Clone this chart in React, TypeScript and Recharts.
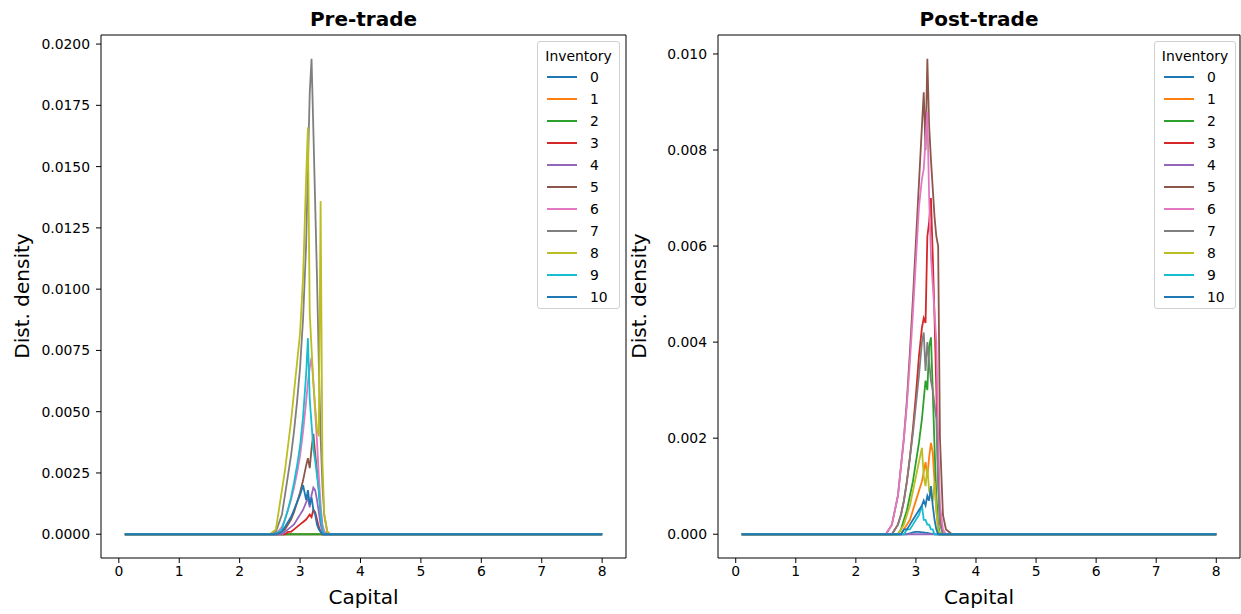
import React from "react";
import { LineChart, Line, XAxis, YAxis, ReferenceLine } from "recharts";

// shared capital grid (fine only where the densities live)
const capital = [
  0.1, 1, 2, 2.5, 2.6, 2.7, 2.75, 2.8, 2.85, 2.9, 2.95, 3.0, 3.05, 3.1, 3.13, 3.16,
  3.19, 3.22, 3.25, 3.28, 3.31, 3.34, 3.37, 3.4, 3.45, 3.5, 3.6, 4, 5, 6, 7, 8,
];

const inventory = ["0", "1", "2", "3", "4", "5", "6", "7", "8", "9", "10"];
const colors = [
  "#1f77b4", "#ff7f0e", "#2ca02c", "#d62728", "#9467bd", "#8c564b",
  "#e377c2", "#7f7f7f", "#bcbd22", "#17becf", "#1f77b4",
];

const xTicks = [0, 1, 2, 3, 4, 5, 6, 7, 8];
const preTicks = [0, 0.0025, 0.005, 0.0075, 0.01, 0.0125, 0.015, 0.0175, 0.02];
const postTicks = [0, 0.002, 0.004, 0.006, 0.008, 0.01];

// pre-trade densities
const pre0 = [0,0,0,0, 0,0,0,0,0,0,0,0,0,0,0,0,0,0,0,0,0,0,0,0,0, 0,0,0,0,0,0,0];
const pre1 = [0,0,0,0, 0,0,0,0,0,0,0,0,0,0,0,0,0,0,0,0,0,0,0,0,0, 0,0,0,0,0,0,0];
const pre2 = [0,0,0,0, 0,0,0,0,0,0,0,0,0,0,0,0,0,0,0,0,0,0,0,0,0, 0,0,0,0,0,0,0];
const pre3 = [0,0,0,0, 0,0,0,0.0001,0.0001,0.0002,0.0003,0.0004,0.0005,0.0006,0.0007,0.0008,0.0007,0.001,0.0009,0.0006,0.0003,0.0001,0,0,0, 0,0,0,0,0,0,0];
const pre4 = [0,0,0,0, 0,0,0.0001,0.0002,0.0003,0.0004,0.0006,0.0008,0.001,0.0013,0.0015,0.0011,0.0016,0.0019,0.0018,0.0014,0.0009,0.0004,0.0001,0,0, 0,0,0,0,0,0,0];
const pre5 = [0,0,0,0, 0,0.0001,0.0002,0.0004,0.0006,0.0009,0.0013,0.0017,0.0022,0.0028,0.0031,0.0027,0.0035,0.0041,0.0033,0.0026,0.0018,0.0009,0.0003,0.0001,0, 0,0,0,0,0,0,0];
const pre6 = [0,0,0,0, 0,0.0003,0.0006,0.001,0.0014,0.0019,0.0025,0.0032,0.0042,0.0054,0.0062,0.0068,0.0072,0.0062,0.005,0.0038,0.0024,0.0012,0.0004,0.0001,0, 0,0,0,0,0,0,0];
const pre7 = [0,0,0,0, 0.0001,0.0008,0.0016,0.0024,0.0032,0.0042,0.0054,0.0068,0.0088,0.0118,0.015,0.018,0.0194,0.0165,0.0135,0.0105,0.007,0.004,0.002,0.0008,0.0001, 0,0,0,0,0,0,0];
const pre8 = [0,0,0,0, 0.0002,0.0018,0.0026,0.0036,0.0046,0.0058,0.007,0.0082,0.0105,0.0145,0.0166,0.009,0.0076,0.0062,0.0052,0.0043,0.004,0.0136,0.003,0.0008,0.0001, 0,0,0,0,0,0,0];
const pre9 = [0,0,0,0, 0,0.0002,0.0006,0.001,0.0015,0.0021,0.0028,0.0036,0.0048,0.0065,0.008,0.0055,0.0045,0.0035,0.003,0.0024,0.0018,0.0008,0.0002,0,0, 0,0,0,0,0,0,0];
const pre10 = [0,0,0,0, 0,0.0001,0.0003,0.0005,0.0007,0.001,0.0013,0.0016,0.002,0.0014,0.0018,0.0012,0.0015,0.001,0.0008,0.0004,0.0002,0.0001,0,0,0, 0,0,0,0,0,0,0];

// post-trade densities
const post0 = [0,0,0,0, 0,0,0,0,0,0.00002,0.00004,0.00005,0.00005,0.00004,0.00004,0.00003,0.00003,0.00002,0.00001,0.00001,0,0,0,0,0, 0,0,0,0,0,0,0];
const post1 = [0,0,0,0, 0,0,0,0.0001,0.0002,0.0003,0.0005,0.0007,0.0009,0.0011,0.0013,0.0015,0.0012,0.0016,0.0019,0.0017,0.0011,0.0005,0.0001,0,0, 0,0,0,0,0,0,0];
const post2 = [0,0,0,0, 0,0,0.0001,0.0003,0.0005,0.0008,0.0011,0.0015,0.0019,0.0024,0.0028,0.0032,0.003,0.0039,0.0041,0.003,0.0018,0.0008,0.0002,0,0, 0,0,0,0,0,0,0];
const post3 = [0,0,0,0, 0,0.0002,0.0004,0.0007,0.0011,0.0016,0.0022,0.0029,0.0037,0.0043,0.0045,0.0044,0.0062,0.0065,0.007,0.0058,0.0045,0.003,0.0012,0.0003,0, 0,0,0,0,0,0,0];
const post4 = [0,0,0,0, 0,0,0,0,0,0,0,0,0,0,0,0,0,0,0,0,0,0,0,0,0, 0,0,0,0,0,0,0];
const post5 = [0,0,0,0, 0.0002,0.0008,0.0014,0.002,0.0028,0.0038,0.0049,0.0061,0.0073,0.0085,0.0092,0.008,0.0099,0.0085,0.0078,0.0072,0.0066,0.0062,0.006,0.002,0.0004, 0.0001,0,0,0,0,0,0];
const post6 = [0,0,0,0, 0.0002,0.0008,0.0014,0.002,0.0027,0.0036,0.0046,0.0057,0.0068,0.0074,0.0076,0.0082,0.0088,0.007,0.0058,0.0052,0.0046,0.004,0.002,0.0006,0.0001, 0,0,0,0,0,0,0];
const post7 = [0,0,0,0, 0,0.0002,0.0004,0.0007,0.0011,0.0016,0.0021,0.0027,0.0033,0.004,0.0042,0.0034,0.004,0.0036,0.0032,0.003,0.0027,0.0024,0.001,0.0002,0, 0,0,0,0,0,0,0];
const post8 = [0,0,0,0, 0,0,0.0001,0.0002,0.0004,0.0006,0.0009,0.0012,0.0015,0.0018,0.0012,0.001,0.0014,0.0009,0.0008,0.0007,0.0011,0.0005,0.0001,0,0, 0,0,0,0,0,0,0];
const post9 = [0,0,0,0, 0,0,0,0,0.0001,0.0001,0.0002,0.0003,0.0004,0.0006,0.0003,0.0003,0.0002,0.0002,0.0001,0.0001,0,0,0,0,0, 0,0,0,0,0,0,0];
const post10 = [0,0,0,0, 0,0,0,0.0001,0.0001,0.0002,0.0003,0.0004,0.0005,0.0006,0.0007,0.0006,0.0008,0.0007,0.001,0.0006,0.0003,0.0001,0,0,0, 0,0,0,0,0,0,0];

const preSeries = [pre0, pre1, pre2, pre3, pre4, pre5, pre6, pre7, pre8, pre9, pre10];
const postSeries = [post0, post1, post2, post3, post4, post5, post6, post7, post8, post9, post10];

function toRows(series: number[][]) {
  return capital.map((c, i) => {
    const row: Record<string, number> = { capital: c };
    series.forEach((s, k) => {
      row["s" + k] = s[i];
    });
    return row;
  });
}

const FONT = "'DejaVu Sans', sans-serif";
const tickStyle = { fontSize: 13.9, fill: "#000", fontFamily: FONT };
const X_DOMAIN: [number, number] = [-0.295, 8.395];

function InventoryLegend({ left, width }: { left: number; width: number }) {
  return (
    <div
      style={{
        position: "absolute",
        left,
        top: 41,
        width,
        height: 268,
        border: "1px solid #d0d0d0",
        borderRadius: 3,
        background: "rgba(255,255,255,0.8)",
        fontFamily: FONT,
        fontSize: 13.9,
        color: "#000",
        boxSizing: "border-box",
      }}
    >
      <div style={{ textAlign: "center", marginTop: 4, height: 20, lineHeight: "20px" }}>Inventory</div>
      {inventory.map((name, i) => (
        <div key={name} style={{ display: "flex", alignItems: "center", height: 22 }}>
          <div style={{ marginLeft: 9, width: 30, height: 2, background: colors[i] }} />
          <span style={{ marginLeft: 13 }}>{name}</span>
        </div>
      ))}
    </div>
  );
}

interface PanelProps {
  left: number;
  width: number;
  marginLeft: number;
  marginRight: number;
  title: string;
  series: number[][];
  yDomain: [number, number];
  yTicks: number[];
  digits: number;
  legendLeft: number;
  legendWidth: number;
}

function Panel(p: PanelProps) {
  const data = toRows(p.series);
  const plotLeft = p.marginLeft + 60;
  const plotRight = p.width - p.marginRight;
  const cx = (plotLeft + plotRight) / 2;
  return (
    <div style={{ position: "absolute", left: p.left, top: 0, width: p.width, height: 614 }}>
      <LineChart
        width={p.width}
        height={614}
        data={data}
        margin={{ top: 35, right: p.marginRight, bottom: 26, left: p.marginLeft }}
      >
        <XAxis
          dataKey="capital"
          type="number"
          domain={X_DOMAIN}
          ticks={xTicks}
          allowDataOverflow
          height={30}
          tick={tickStyle}
          tickSize={5}
          tickMargin={3}
          stroke="#000"
          tickLine={{ stroke: "#000" }}
        />
        <YAxis
          type="number"
          domain={p.yDomain}
          ticks={p.yTicks}
          allowDataOverflow
          width={60}
          tick={tickStyle}
          tickSize={5}
          tickMargin={6}
          stroke="#000"
          tickFormatter={(v: number) => v.toFixed(p.digits)}
        />
        {inventory.map((name, k) => (
          <Line
            key={name}
            type="linear"
            dataKey={"s" + k}
            name={name}
            stroke={colors[k]}
            strokeWidth={1.8}
            dot={false}
            isAnimationActive={false}
          />
        ))}
        <ReferenceLine y={p.yDomain[1]} stroke="#000" strokeWidth={1} ifOverflow="extendDomain" />
        <ReferenceLine x={X_DOMAIN[1]} stroke="#000" strokeWidth={1} ifOverflow="extendDomain" />
      </LineChart>
      <InventoryLegend left={p.legendLeft} width={p.legendWidth} />
      <div
        style={{
          position: "absolute",
          left: cx - 150,
          width: 300,
          top: 7,
          textAlign: "center",
          fontFamily: FONT,
          fontWeight: "bold",
          fontSize: 20,
        }}
      >
        {p.title}
      </div>
      <div
        style={{
          position: "absolute",
          left: cx - 150,
          width: 300,
          top: 585,
          textAlign: "center",
          fontFamily: FONT,
          fontSize: 20,
        }}
      >
        Capital
      </div>
      <div
        style={{
          position: "absolute",
          left: plotLeft - 79 - 100,
          top: 296 - 12,
          width: 200,
          height: 24,
          lineHeight: "24px",
          textAlign: "center",
          fontFamily: FONT,
          fontSize: 20,
          transform: "rotate(-90deg)",
        }}
      >
        Dist. density
      </div>
    </div>
  );
}

export default function App() {
  return (
    <div style={{ position: "absolute", left: 0, top: 0, width: 1241, height: 614, background: "#fff" }}>
      <Panel
        left={0}
        width={640}
        marginLeft={41}
        marginRight={14}
        title="Pre-trade"
        series={preSeries}
        yDomain={[-0.00097, 0.02037]}
        yTicks={preTicks}
        digits={4}
        legendLeft={537}
        legendWidth={83}
      />
      <Panel
        left={620}
        width={621}
        marginLeft={38}
        marginRight={1}
        title="Post-trade"
        series={postSeries}
        yDomain={[-0.000495, 0.010395]}
        yTicks={postTicks}
        digits={3}
        legendLeft={534}
        legendWidth={82}
      />
    </div>
  );
}
